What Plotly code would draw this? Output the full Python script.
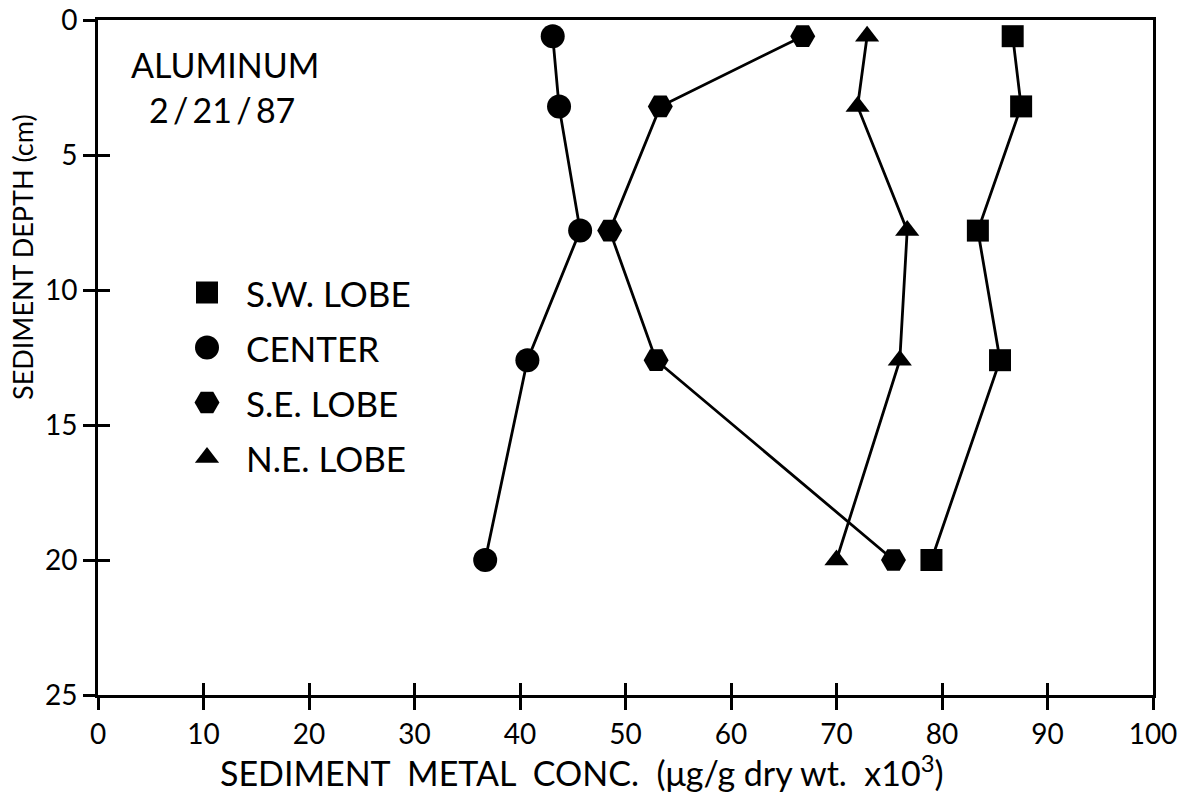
import plotly.graph_objects as go

# Sediment aluminium profiles, 2/21/87
depth_cm = [0.6, 3.2, 7.8, 12.6, 20.0]
sw_lobe = [86.7, 87.5, 83.4, 85.5, 79.0]
center = [43.1, 43.7, 45.7, 40.7, 36.7]
se_lobe = [66.8, 53.3, 48.5, 52.9, 75.4]
ne_lobe = [72.9, 72.0, 76.7, 76.0, 70.0]

series_names = ["S.W. LOBE", "CENTER", "S.E. LOBE", "N.E. LOBE"]
series_values = [sw_lobe, center, se_lobe, ne_lobe]
symbols = ["square", "circle", "hexagon2", "triangle-up"]
sizes = [22, 24, 25, 21]

x_ticks = list(range(0, 101, 10))
y_ticks = list(range(0, 26, 5))

FONT = "Lato"
INK = "black"

fig = go.Figure()

for name, vals, sym, sz in zip(series_names, series_values, symbols, sizes):
    fig.add_trace(go.Scatter(
        x=vals, y=depth_cm, mode="lines+markers", name=name,
        line=dict(color=INK, width=2.8),
        marker=dict(symbol=sym, size=sz, color=INK, line=dict(width=0)),
        showlegend=False, hoverinfo="skip",
    ))

# empty trace so the overlay axes (inner half of the crossing ticks) are drawn
fig.add_trace(go.Scatter(x=[None], y=[None], xaxis="x2", yaxis="y2",
                         showlegend=False, hoverinfo="skip"))

# hand-made key: one marker per row, label to its right
for i, (name, sym, sz) in enumerate(zip(series_names, symbols, sizes)):
    fig.add_trace(go.Scatter(
        x=[0], y=[i], xaxis="x3", yaxis="y3", mode="markers",
        marker=dict(symbol=sym, size=sz, color=INK, line=dict(width=0)),
        cliponaxis=False, showlegend=False, hoverinfo="skip",
    ))
    fig.add_annotation(x=0, y=i, xref="x3", yref="y3", text=name,
                       showarrow=False, xanchor="left", yanchor="middle",
                       xshift=37, font=dict(family=FONT, size=35, color=INK))

L, R, T, B = 98, 32, 20, 103
W, H = 1185, 798
pw = W - L - R
ph = H - T - B

def px_x(px):
    return (px - L) / pw

def px_y(py):
    return (H - B - py) / ph

axis_common = dict(showgrid=False, zeroline=False, linecolor=INK, linewidth=3,
                   tickcolor=INK, tickwidth=2.5, ticklen=12, automargin=False)
overlay_common = {k: v for k, v in axis_common.items() if k != "linewidth"}

fig.update_layout(
    width=W, height=H,
    margin=dict(l=L, r=R, t=T, b=B, autoexpand=False),
    paper_bgcolor="white", plot_bgcolor="white",
    font=dict(family=FONT, color=INK),
    xaxis=dict(range=[0, 100], tickvals=x_ticks, ticks="outside", showline=True,
               mirror=True, tickfont=dict(family=FONT, size=28, color=INK),
               **axis_common),
    yaxis=dict(range=[25, 0], tickvals=y_ticks, ticks="outside", showline=True,
               mirror=True, tickfont=dict(family=FONT, size=28, color=INK),
               **axis_common),
    xaxis2=dict(range=[0, 100], tickvals=x_ticks, ticks="inside", overlaying="x",
                anchor="y", side="bottom", showticklabels=False, showline=False,
                **overlay_common),
    yaxis2=dict(range=[25, 0], tickvals=y_ticks, ticks="inside", overlaying="y",
                anchor="x", side="left", showticklabels=False, showline=False,
                **overlay_common),
    xaxis3=dict(domain=[px_x(177), px_x(237)], range=[-1, 1], visible=False,
                anchor="y3"),
    yaxis3=dict(domain=[px_y(485), px_y(265)], range=[3.5, -0.5], visible=False,
                anchor="x3"),
)

fig.add_annotation(x=px_x(225), y=px_y(64), xref="paper", yref="paper",
                   text="ALUMINUM", showarrow=False, xanchor="center",
                   yanchor="middle", font=dict(family=FONT, size=34, color=INK))
fig.add_annotation(x=px_x(222), y=px_y(110), xref="paper", yref="paper",
                   text="2\u2009/\u200921\u2009/\u200987", showarrow=False,
                   xanchor="center", yanchor="middle",
                   font=dict(family=FONT, size=34, color=INK))

fig.add_annotation(x=px_x(582), y=px_y(771), xref="paper", yref="paper",
                   text="SEDIMENT  METAL  CONC.  (μg/g dry wt.  x10<sup>3</sup>)",
                   showarrow=False, xanchor="center", yanchor="middle",
                   font=dict(family=FONT, size=34, color=INK))
fig.add_annotation(x=px_x(22), y=px_y(257), xref="paper", yref="paper",
                   text="SEDIMENT DEPTH (cm)", textangle=-90,
                   showarrow=False, xanchor="center", yanchor="middle",
                   font=dict(family=FONT, size=27, color=INK))

fig.write_html("out.html")
